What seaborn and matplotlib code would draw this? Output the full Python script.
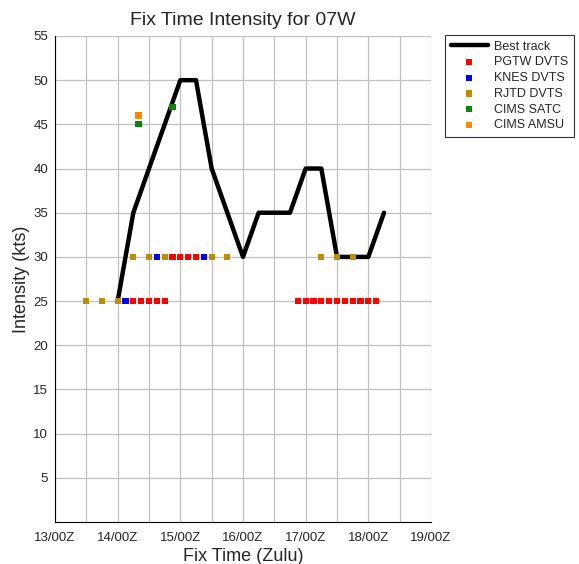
import matplotlib
matplotlib.use("Agg")
import matplotlib.pyplot as plt
import seaborn as sns
import pandas as pd
import numpy as np

# hours since 13/00Z
bt_hours = [24, 30, 48, 54, 60, 72, 78, 84, 90, 96, 102, 108, 114, 120, 126]
bt_kts   = [25, 35, 50, 50, 40, 30, 35, 35, 35, 40, 40, 30, 30, 30, 35]

pgtw_hours = [30, 33, 36, 39, 42, 45, 48, 51, 54,
              93, 96, 99, 102, 105, 108, 111, 114, 117, 120, 123]
pgtw_kts   = [25, 25, 25, 25, 25, 30, 30, 30, 30,
              25, 25, 25, 25, 25, 25, 25, 25, 25, 25, 25]

knes_hours = [27, 39, 57]
knes_kts   = [25, 30, 30]

rjtd_hours = [12, 18, 24, 30, 36, 42, 60, 66, 102, 108, 114]
rjtd_kts   = [25, 25, 25, 30, 30, 30, 30, 30, 30, 30, 30]

satc_hours = [32, 45]
satc_kts   = [45, 47]

amsu_hours = [32]
amsu_kts   = [46]

tick_hours = [0, 24, 48, 72, 96, 120, 144]
tick_labels = ["13/00Z", "14/00Z", "15/00Z", "16/00Z", "17/00Z", "18/00Z", "19/00Z"]
y_ticks = [5, 10, 15, 20, 25, 30, 35, 40, 45, 50, 55]

sns.set_theme(style="white")
plt.rcParams['font.family'] = ['Liberation Sans', 'DejaVu Sans']

fig = plt.figure(figsize=(5.79, 5.64), dpi=100)
ax = fig.add_axes([55/579, 1-522/564, (431-55)/579, (522-36)/564])

ax.set_xlim(0, 144)
ax.set_ylim(0, 55)
ax.set_xticks(tick_hours)
ax.set_xticklabels(tick_labels, fontsize=9.5)
ax.set_xticks(np.arange(0, 145, 12), minor=True)
ax.set_yticks(y_ticks)
ax.set_yticklabels([str(v) for v in y_ticks], fontsize=9.5)
ax.grid(True, which='both', color='#c0c0c0', linewidth=0.9)
ax.set_axisbelow(True)

for s in ['top', 'right']:
    ax.spines[s].set_visible(False)
for s in ['left', 'bottom']:
    ax.spines[s].set_color('black')
    ax.spines[s].set_linewidth(0.8)
ax.tick_params(axis='both', which='both', direction='out', length=3, width=0.6, color='black', pad=2)
ax.tick_params(axis='x', which='major', pad=4)

bt = pd.DataFrame({"h": bt_hours, "k": bt_kts})
sns.lineplot(data=bt, x="h", y="k", ax=ax, color='black', linewidth=3.2,
             label="Best track", sort=False, zorder=2)

series = [
    ("PGTW DVTS", pgtw_hours, pgtw_kts, "#ff0000"),
    ("KNES DVTS", knes_hours, knes_kts, "#0000ff"),
    ("RJTD DVTS", rjtd_hours, rjtd_kts, "#c08c00"),
    ("CIMS SATC", satc_hours, satc_kts, "#008800"),
    ("CIMS AMSU", amsu_hours, amsu_kts, "#ff8800"),
]
for name, hh, kk, col in series:
    df = pd.DataFrame({"h": hh, "k": kk})
    sns.scatterplot(data=df, x="h", y="k", ax=ax, color=col, marker='s', s=20,
                    edgecolor='none', label=name, zorder=3)

ax.set_xlabel("Fix Time (Zulu)", fontsize=13, labelpad=3)
ax.set_ylabel("Intensity (kts)", fontsize=13, labelpad=2)
ax.set_title("Fix Time Intensity for 07W", fontsize=14, pad=8)

handles, labels = ax.get_legend_handles_labels()
leg = fig.legend(handles, labels, loc='upper left', bbox_to_anchor=(445/579, 1-35/564),
                 fontsize=9, frameon=True, fancybox=False, edgecolor='black',
                 handlelength=3.0, borderpad=0.45, labelspacing=0.3, handletextpad=0.5,
                 borderaxespad=0)
leg.get_frame().set_linewidth(0.8)
if ax.get_legend():
    ax.get_legend().remove()

fig.savefig("out.png", dpi=100)
